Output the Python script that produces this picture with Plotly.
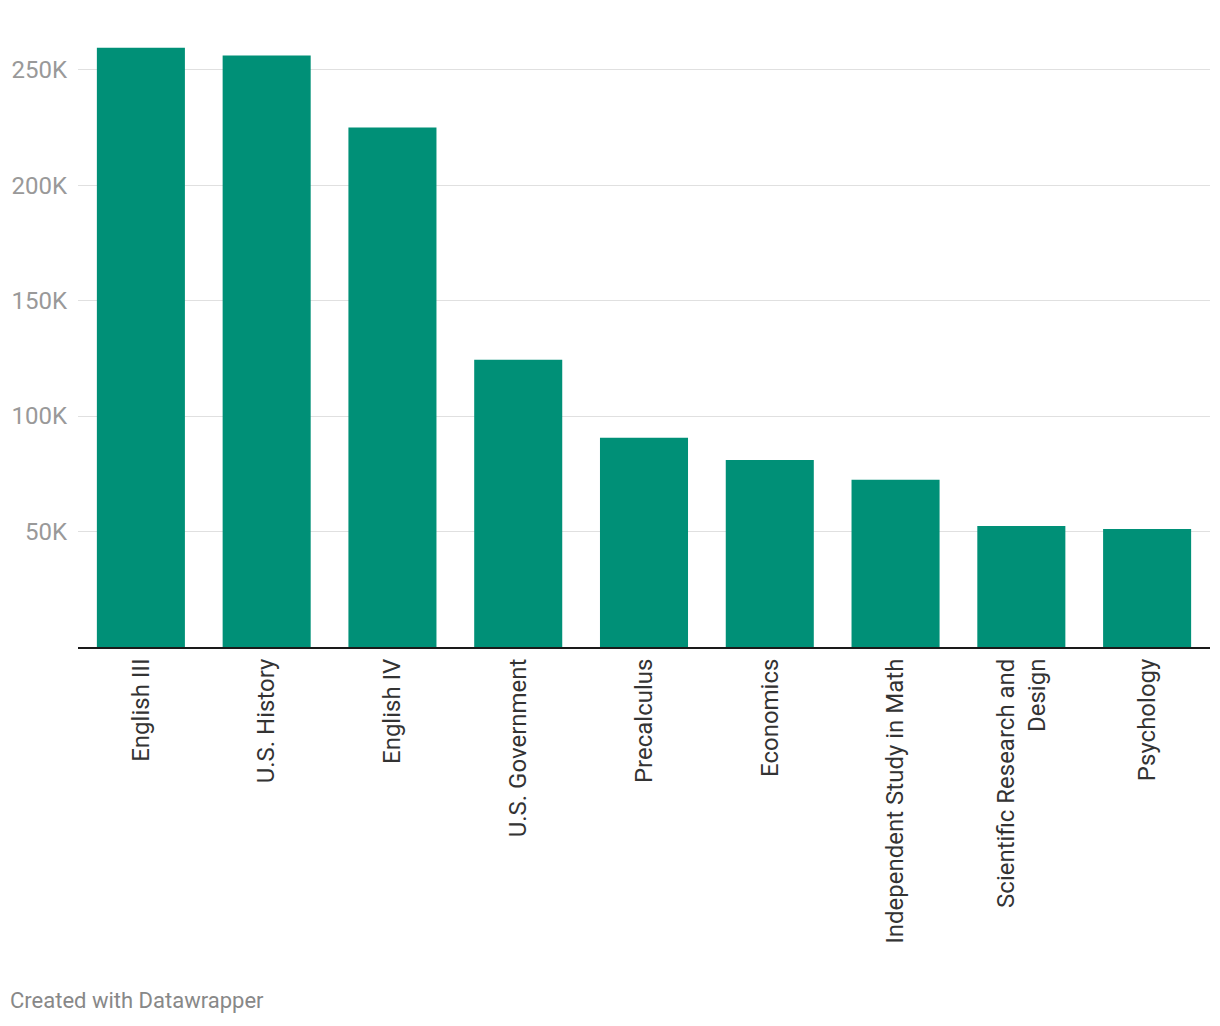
import plotly.graph_objects as go

categories = ["English III", "U.S. History", "English IV", "U.S. Government", "Precalculus",
              "Economics", "Independent Study in Math", "Scientific Research and<br>Design", "Psychology"]
values = [259500, 256100, 224900, 124400, 90600, 81000, 72400, 52400, 51100]
tick_vals = [50000, 100000, 150000, 200000, 250000]
tick_text = ["50K", "100K", "150K", "200K", "250K"]

fig = go.Figure(go.Bar(x=categories, y=values, marker=dict(color="#009077", line=dict(width=0)),
                       hoverinfo="skip"))

fig.update_layout(
    width=1220, height=1026,
    margin=dict(l=70, r=18, t=27, b=387, autoexpand=False),
    plot_bgcolor="white", paper_bgcolor="white",
    bargap=0.3,
    showlegend=False,
    font=dict(family="Roboto", color="#333333"),
    xaxis=dict(tickangle=-90, tickfont=dict(size=24, color="#333333"),
               showline=True, linecolor="#1a1a1a", linewidth=2, ticks="",
               showgrid=False, ticklabelstandoff=0, automargin=False),
    yaxis=dict(range=[0, 265000], tickvals=tick_vals, ticktext=tick_text,
               tickfont=dict(size=24, color="#999999"), showgrid=True,
               gridcolor="#e0e0e0", gridwidth=1, zeroline=False, ticks="",
               ticklabelstandoff=10, automargin=False),
    annotations=[dict(text="Created with Datawrapper", xref="paper", yref="paper",
                      x=-70/1132, y=-(992-639)/612, xanchor="left", yanchor="middle",
                      showarrow=False, font=dict(size=22, color="#888888", family="Roboto"))],
)

fig.write_html("out.html")
